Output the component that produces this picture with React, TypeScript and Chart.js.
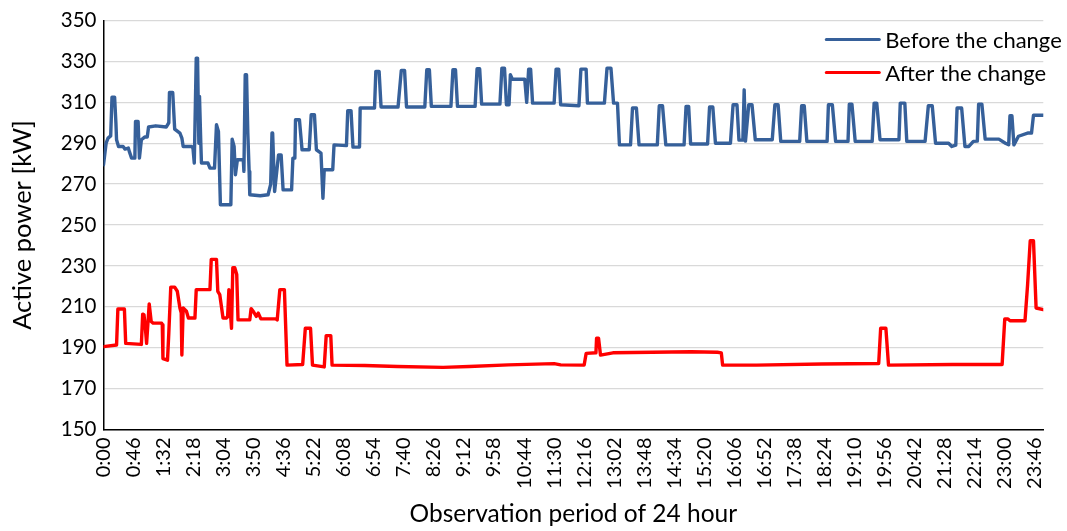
import React, { useEffect, useRef } from "react";
import { Chart, registerables } from "chart.js";

Chart.register(...registerables);

// ---- data (minutes since 0:00, active power in kW) ----
const beforeMinutes = [
  0, 4, 7, 11, 13, 17, 19, 20, 23, 30, 33, 38, 40, 43, 48, 49, 53, 55, 58, 63, 67, 69, 80, 96, 100,
  101, 106, 109, 117, 120, 122, 135, 137, 139, 142, 144, 146, 147, 149, 150, 160, 163, 170, 173, 176,
  179, 195, 197, 200, 202, 205, 214, 215, 217, 219, 221, 223, 224, 240, 252, 256, 258, 259, 262, 268,
  272, 275, 288, 290, 293, 294, 300, 304, 315, 318, 323, 326, 333, 336, 338, 351, 353, 372, 374, 379,
  382, 392, 393, 415, 417, 422, 425, 451, 456, 461, 464, 492, 495, 499, 502, 532, 535, 539, 542, 569,
  572, 576, 579, 607, 610, 614, 617, 621, 623, 626, 645, 648, 651, 654, 657, 690, 693, 697, 700, 728,
  731, 739, 741, 767, 771, 777, 781, 787, 790, 807, 810, 816, 820, 848, 851, 856, 861, 889, 892, 896,
  899, 925, 928, 933, 937, 960, 964, 970, 973, 979, 981, 983, 988, 993, 998, 1024, 1028, 1033, 1037,
  1066, 1069, 1073, 1077, 1108, 1110, 1116, 1121, 1140, 1142, 1146, 1151, 1177, 1180, 1184, 1189,
  1218, 1220, 1227, 1230, 1258, 1263, 1269, 1274, 1294, 1299, 1305, 1307, 1314, 1319, 1325, 1332,
  1338, 1340, 1345, 1350, 1371, 1381, 1386, 1388, 1391, 1394, 1401, 1416, 1421, 1424, 1439,
];
const beforeKw = [
  279.5, 290, 292.5, 293.6, 312.5, 312.5, 300, 291.7, 288.4, 288.4, 287.1, 287.6, 285.5, 282.7, 282.7,
  300.6, 300.6, 282.7, 291.7, 293, 293, 297.9, 298.5, 297.9, 300, 314.8, 314.8, 296.9, 294.9, 292.5,
  288.4, 288.4, 287.6, 280.3, 331.6, 331.6, 290, 312.9, 290, 280.3, 280.3, 277.8, 277.8, 299, 295.7,
  259.9, 259.9, 292, 288.4, 274.6, 281.9, 281.9, 276.2, 323.5, 323.5, 294.9, 276.2, 264.8, 264.3, 264.8,
  270, 295, 295, 266.4, 284.3, 284.3, 267.2, 267.2, 282.7, 282.7, 301.5, 301.5, 286.8, 286.8, 303.9,
  303.9, 286.8, 285.2, 263.1, 277, 277, 289.2, 288.8, 305.9, 305.9, 288.1, 288.1, 307.2, 307.2, 325.1,
  325.1, 307.7, 307.7, 325.6, 325.6, 307.7, 307.7, 325.9, 325.9, 308, 308, 325.9, 325.9, 308, 308,
  326.4, 326.4, 309.1, 309.1, 326.7, 326.7, 308.8, 308.8, 323.5, 321.3, 321.3, 310, 326.2, 326.2, 309.6,
  309.6, 326.2, 326.2, 308.8, 308.3, 326.2, 326.2, 309.6, 309.6, 326.7, 326.7, 309.6, 309.6, 289.2,
  289.2, 307.2, 307.2, 289.2, 289.2, 308.3, 308.3, 289.2, 289.2, 308, 308, 289.6, 289.6, 307.7, 307.7,
  290, 290, 308.8, 308.8, 291.5, 291.5, 316.1, 291, 308.8, 308.8, 291.7, 291.7, 308.8, 308.8, 290.9,
  290.9, 308.3, 308.3, 290.9, 290.9, 308.8, 308.8, 290.9, 290.9, 309.1, 309.1, 290.9, 290.9, 309.6,
  309.6, 291.7, 291.7, 309.6, 309.6, 290.9, 290.9, 308.3, 308.3, 290, 290, 288.4, 289, 307.2, 307.2,
  288.4, 288.4, 290.9, 291, 309.1, 309.1, 292, 292, 290, 289.2, 303.4, 303.4, 289.2, 293.4, 295, 295,
  303.7, 303.7,
];

const afterMinutes = [
  0, 20, 22, 32, 34, 58, 60, 62, 64, 66, 70, 73, 76, 89, 90, 91, 98, 100, 103, 109, 113, 117, 119, 120,
  122, 127, 130, 140, 142, 163, 165, 173, 175, 178, 183, 188, 190, 192, 196, 198, 201, 204, 206, 224,
  226, 230, 234, 237, 241, 264, 266, 270, 277, 281, 305, 309, 317, 320, 338, 341, 348, 350, 400, 450,
  520, 560, 620, 690, 700, 736, 739, 754, 755, 758, 761, 780, 900, 940, 946, 948, 1000, 1100, 1187,
  1190, 1198, 1202, 1300, 1376, 1380, 1385, 1388, 1411, 1415, 1419, 1424, 1428, 1439,
];
const afterKw = [
  190.5, 191.3, 208.9, 208.9, 192.1, 191.6, 206.4, 206.1, 200, 192.1, 211.4, 202.8, 202, 202, 201.2,
  184.7, 183.9, 197.1, 219.6, 219.6, 217.6, 209.4, 207, 186.4, 209.4, 207.8, 204.5, 204.5, 218.4, 218.4,
  233.2, 233.2, 217.6, 216, 204.5, 204.5, 205, 218.4, 199.5, 229.1, 229.1, 225.8, 203.6, 203.6, 209.1,
  207.4, 205.3, 206.9, 204.1, 204.1, 203.6, 218.4, 218.4, 181.5, 181.8, 199.5, 199.5, 181.5, 180.6,
  195.9, 195.9, 181.5, 181.3, 180.8, 180.4, 180.8, 181.6, 182.2, 181.6, 181.5, 187.2, 187.5, 194.6,
  194.6, 186.4, 187.5, 188, 187.8, 187.5, 181.5, 181.5, 182, 182.3, 199.5, 199.5, 181.5, 181.8, 181.8,
  204, 204, 203.2, 203.2, 220.9, 242.3, 242.3, 209.4, 208.6,
];

const xTickLabels = [
  "0:00", "0:46", "1:32", "2:18", "3:04", "3:50", "4:36", "5:22", "6:08", "6:54", "7:40", "8:26",
  "9:12", "9:58", "10:44", "11:30", "12:16", "13:02", "13:48", "14:34", "15:20", "16:06", "16:52",
  "17:38", "18:24", "19:10", "19:56", "20:42", "21:28", "22:14", "23:00", "23:46",
];

const seriesNames = ["Before the change", "After the change"];
const seriesColors = ["#36609A", "#FF0000"];

const FONT = "Lato, 'Noto Sans', sans-serif";

const toMinutes = (label: string) => {
  const [h, m] = label.split(":").map(Number);
  return h * 60 + m;
};

const legendPlugin = {
  id: "insideLegend",
  afterDraw(chart: any) {
    const { ctx, chartArea } = chart;
    ctx.save();
    ctx.font = `22px ${FONT}`;
    ctx.textBaseline = "middle";
    ctx.textAlign = "left";
    chart.data.datasets.forEach((ds: any, i: number) => {
      const y = chartArea.top + 19 + i * 33;
      const x0 = chartArea.right - 217;
      ctx.strokeStyle = ds.borderColor;
      ctx.lineWidth = 3;
      ctx.lineCap = "round";
      ctx.beginPath();
      ctx.moveTo(x0, y);
      ctx.lineTo(x0 + 53, y);
      ctx.stroke();
      ctx.fillStyle = "#000";
      ctx.fillText(ds.label, x0 + 59, y + 1);
    });
    ctx.restore();
  },
};

export default function App() {
  const canvasRef = useRef<HTMLCanvasElement | null>(null);

  useEffect(() => {
    if (!canvasRef.current) return;
    const chart = new Chart(canvasRef.current, {
      type: "line",
      data: {
        datasets: [
          {
            label: seriesNames[0],
            data: beforeMinutes.map((m, i) => ({ x: m, y: beforeKw[i] })),
            borderColor: seriesColors[0],
            backgroundColor: seriesColors[0],
            borderWidth: 3.4,
            pointRadius: 0,
            tension: 0,
            borderJoinStyle: "round",
            borderCapStyle: "round",
          },
          {
            label: seriesNames[1],
            data: afterMinutes.map((m, i) => ({ x: m, y: afterKw[i] })),
            borderColor: seriesColors[1],
            backgroundColor: seriesColors[1],
            borderWidth: 3.4,
            pointRadius: 0,
            tension: 0,
            borderJoinStyle: "round",
            borderCapStyle: "round",
          },
        ],
      },
      options: {
        responsive: false,
        animation: false,
        layout: { padding: { top: 20.5, right: 23, left: 0, bottom: 0 } },
        plugins: {
          legend: { display: false },
          tooltip: { enabled: false },
        },
        scales: {
          x: {
            type: "linear",
            min: 0,
            max: 1439,
            afterFit: (s: any) => {
              s.height = 101.5;
            },
            afterBuildTicks: (s: any) => {
              s.ticks = xTickLabels.map((l) => ({ value: toMinutes(l) }));
            },
            grid: { display: false, drawTicks: false },
            border: { display: true, color: "#000", width: 1.5 },
            ticks: {
              autoSkip: false,
              minRotation: 90,
              maxRotation: 90,
              padding: 8,
              color: "#000",
              font: { family: FONT, size: 20 },
              callback: (_v: any, i: number) => xTickLabels[i],
            },
            title: {
              display: true,
              text: "Observation period of 24 hour",
              color: "#000",
              font: { family: FONT, size: 24.5 },
              padding: { top: 0, bottom: 2 },
            },
          },
          y: {
            type: "linear",
            min: 150,
            max: 350,
            afterFit: (s: any) => {
              s.width = 103.5;
            },
            grid: { color: "#D9D9D9", lineWidth: 1.3, drawTicks: false },
            border: { display: true, color: "#000", width: 1.5 },
            ticks: {
              stepSize: 20,
              padding: 7,
              color: "#000",
              font: { family: FONT, size: 20.5 },
            },
            title: {
              display: true,
              text: "Active power [kW]",
              color: "#000",
              font: { family: FONT, size: 25.5 },
              padding: { top: 7, bottom: 0 },
            },
          },
        },
      },
      plugins: [legendPlugin],
    });
    return () => chart.destroy();
  }, []);

  return (
    <div style={{ position: "fixed", left: 0, top: 0, width: 1067, height: 531, background: "#fff" }}>
      <canvas ref={canvasRef} width={1067} height={531} />
    </div>
  );
}
